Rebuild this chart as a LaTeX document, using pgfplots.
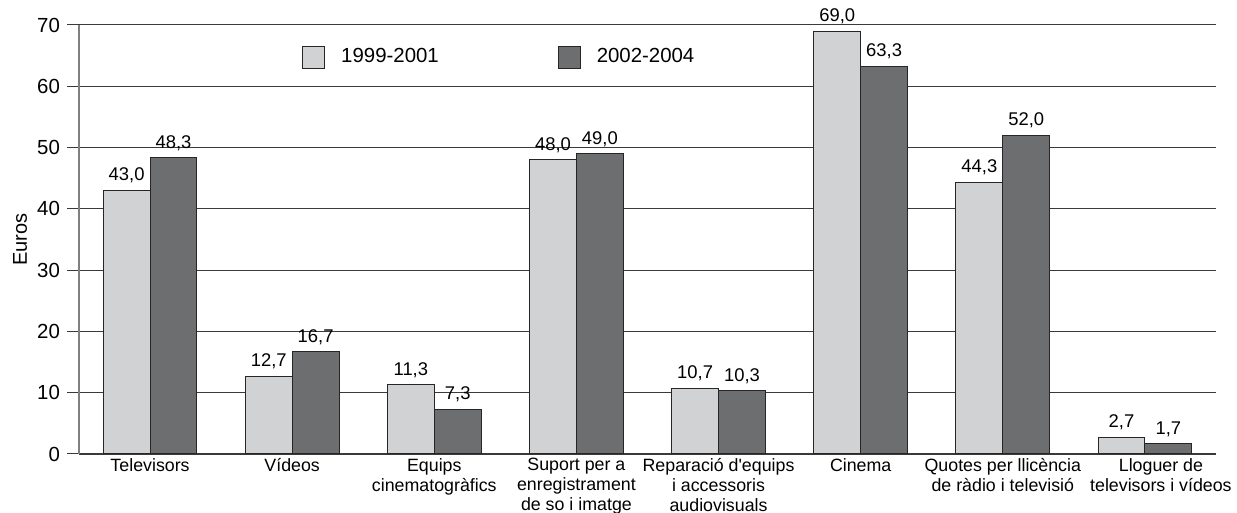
\documentclass[border=0pt]{standalone}
\usepackage{fontspec}
\setmainfont{Liberation Sans}
\usepackage{pgfplots}
\pgfplotsset{compat=1.18}

\definecolor{lightbar}{HTML}{D1D2D4}
\definecolor{darkbar}{HTML}{6D6E70}
\definecolor{gridc}{HTML}{3A3A3A}

\pgfplotstableread{
x a b
0 43.0 48.3
1 12.7 16.7
2 11.3 7.3
3 48.0 49.0
4 10.7 10.3
5 69.0 63.3
6 44.3 52.0
7 2.7 1.7
}\datatable

\begin{document}
\begin{tikzpicture}
\begin{axis}[
  scale only axis,
  width=568.5pt, height=214.5pt,
  ybar=0pt, bar width=0.33,
  xmin=-0.5, xmax=7.5,
  ymin=0, ymax=70,
  ytick={0,10,...,70},
  xtick={0,...,6},
  xticklabels={Televisors, Vídeos, Equips\\cinematogràfics,
    Suport per a\\enregistrament\\de so i imatge,
    Reparació d\textquotesingle equips\\i accessoris\\audiovisuals,
    Cinema, Quotes per llicència\\de ràdio i televisió},
  extra x ticks={7},
  extra x tick labels={Lloguer de\\televisors i vídeos},
  extra x tick style={xticklabel style={xshift=8pt}},
  xticklabel style={align=center, font=\fontsize{8.9}{9.9}\selectfont, inner sep=0pt, yshift=4pt},
  yticklabel style={font=\fontsize{10.2}{12}\selectfont},
  /pgf/number format/assume math mode=true,
  axis x line=bottom, axis y line=left,
  x axis line style={-, draw=gridc, line width=1pt},
  y axis line style={-, draw=gray, line width=0.75pt},
  xtick style={draw=none},
  ytick style={draw=gridc, line width=0.5pt},
  tick align=outside, major tick length=6pt,
  ymajorgrids, major grid style={draw=gridc, line width=0.5pt},
  every axis y label/.style={at={(axis description cs:0,0.5)}, xshift=-29.5pt, rotate=90, anchor=center, font=\fontsize{10}{12}\selectfont},
  ylabel={Euros},
  nodes near coords,
  nodes near coords style={font=\fontsize{9.2}{11}\selectfont, /pgf/number format/.cd, fixed, fixed zerofill, precision=1, use comma, assume math mode=true},
  legend columns=2,
  legend style={draw=none, fill=none, at={(axis description cs:0.196,0.925)}, anchor=west, inner sep=0pt,
    font=\fontsize{10.2}{12}\selectfont,
    /tikz/every odd column/.append style={column sep=6pt},
    /tikz/every even column/.append style={column sep=57.5pt}},
  legend image code/.code={\draw[#1] (0pt,-5.5pt) rectangle (11pt,5.5pt);},
]
\addplot[fill=lightbar, draw=black!85, line width=0.5pt] table[x=x, y=a] {\datatable};
\addplot[fill=darkbar, draw=black!85, line width=0.5pt] table[x=x, y=b] {\datatable};
\legend{1999-2001, 2002-2004}
\end{axis}
\pgfresetboundingbox
\useasboundingbox (-39.5pt,-29.5pt) rectangle (579pt,227pt);
\end{tikzpicture}
\end{document}
